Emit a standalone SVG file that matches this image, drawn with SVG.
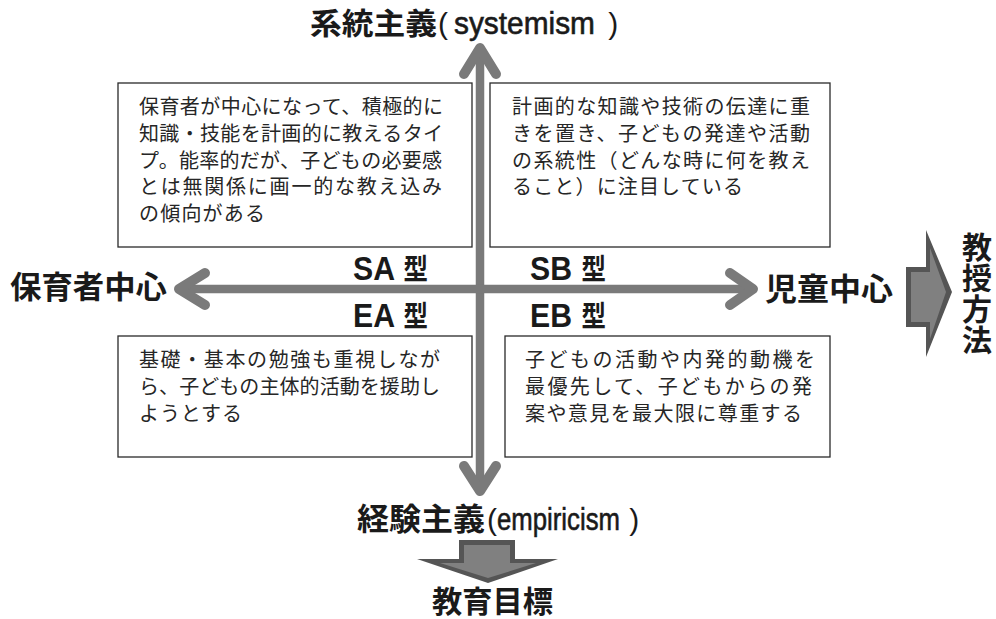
<svg xmlns="http://www.w3.org/2000/svg" width="996" height="619" viewBox="0 0 996 619">
<style>
.box{fill:#fff;stroke:#2a2a2a;stroke-width:1.3}
.bt{font-family:"Noto Sans CJK JP","Noto Sans",sans-serif;font-size:20px;fill:#262626;font-weight:400}
.hd{font-family:"Noto Sans CJK JP","Noto Sans",sans-serif;font-weight:700;fill:#1a1a1a}
.lat{font-family:"Liberation Sans","Noto Sans",sans-serif;fill:#1a1a1a}
.med{stroke:#1a1a1a;stroke-width:0.6}
.ax{fill:none;stroke:#7a7a7a;stroke-width:8.5;stroke-linecap:round;stroke-linejoin:round}
.ah{fill:none;stroke:#7a7a7a;stroke-width:10;stroke-linecap:round;stroke-linejoin:round}
</style>
<rect width="996" height="619" fill="#fff"/>

<g id="connectors">
  <line class="ax" x1="480" y1="50" x2="480" y2="488"/>
  <polyline class="ah" points="464,74 480,48 496,74"/>
  <polyline class="ah" points="464,466 480,491 496,466"/>
  <line class="ax" x1="182" y1="289" x2="750" y2="289"/>
  <polyline class="ah" points="205,273 179,289 205,305"/>
  <polyline class="ah" points="730,273 753,289 730,305"/>
</g>

<g id="box-SA">
  <rect class="box" x="118" y="83" width="354" height="164"/>
  <text class="bt" x="139" y="114" textLength="304" lengthAdjust="spacing">保育者が中心になって、積極的に</text>
  <text class="bt" x="139" y="141" textLength="304" lengthAdjust="spacing">知識・技能を計画的に教えるタイ</text>
  <text class="bt" x="139" y="168" textLength="303" lengthAdjust="spacing">プ。能率的だが、子どもの必要感</text>
  <text class="bt" x="139" y="194" textLength="303" lengthAdjust="spacing">とは無関係に画一的な教え込み</text>
  <text class="bt" x="139" y="221" textLength="126" lengthAdjust="spacing">の傾向がある</text>
</g>

<g id="box-SB">
  <rect class="box" x="490" y="83" width="340" height="164"/>
  <text class="bt" x="512" y="114" textLength="298" lengthAdjust="spacing">計画的な知識や技術の伝達に重</text>
  <text class="bt" x="512" y="141" textLength="298" lengthAdjust="spacing">きを置き、子どもの発達や活動</text>
  <text class="bt" x="512" y="168" textLength="298" lengthAdjust="spacing">の系統性（どんな時に何を教え</text>
  <text class="bt" x="512" y="194" textLength="231" lengthAdjust="spacing">ること）に注目している</text>
</g>

<g id="box-EA">
  <rect class="box" x="118" y="336" width="354" height="121"/>
  <text class="bt" x="139" y="367" textLength="301" lengthAdjust="spacing">基礎・基本の勉強も重視しなが</text>
  <text class="bt" x="139" y="394" textLength="301" lengthAdjust="spacing">ら、子どもの主体的活動を援助し</text>
  <text class="bt" x="139" y="421" textLength="103" lengthAdjust="spacing">ようとする</text>
</g>

<g id="box-EB">
  <rect class="box" x="505" y="336" width="325" height="121"/>
  <text class="bt" x="525" y="367" textLength="290" lengthAdjust="spacing">子どもの活動や内発的動機を</text>
  <text class="bt" x="525" y="394" textLength="287" lengthAdjust="spacing">最優先して、子どもからの発</text>
  <text class="bt" x="525" y="421" textLength="277" lengthAdjust="spacing">案や意見を最大限に尊重する</text>
</g>

<g id="label-systemism">
  <text y="34"><tspan class="hd" x="310" font-size="30" textLength="127" lengthAdjust="spacingAndGlyphs">系統主義</tspan><tspan class="lat" x="438" font-size="30">(</tspan><tspan class="lat med" x="454" font-size="31" textLength="141" lengthAdjust="spacingAndGlyphs">systemism</tspan><tspan class="lat" x="600" font-size="30"> )</tspan></text>
</g>

<g id="label-empiricism">
  <text y="530"><tspan class="hd" x="357" font-size="31" textLength="128" lengthAdjust="spacingAndGlyphs">経験主義</tspan><tspan class="lat" x="487" font-size="30">(</tspan><tspan class="lat med" x="497" font-size="31" textLength="123" lengthAdjust="spacingAndGlyphs">empiricism</tspan><tspan class="lat" x="621" font-size="30"> )</tspan></text>
</g>

<g id="label-hoikusha">
  <text class="hd" x="10" y="298" font-size="31" textLength="157" lengthAdjust="spacingAndGlyphs">保育者中心</text>
</g>

<g id="label-jido">
  <text class="hd" x="765" y="300" font-size="31" textLength="128" lengthAdjust="spacingAndGlyphs">児童中心</text>
</g>

<g id="label-SA">
  <text y="280"><tspan class="lat" x="353" font-size="33" font-weight="700" textLength="42" lengthAdjust="spacingAndGlyphs">SA</tspan><tspan class="hd" x="398" font-size="29" textLength="30" lengthAdjust="spacingAndGlyphs"> 型</tspan></text>
</g>
<g id="label-EA">
  <text y="327"><tspan class="lat" x="353" font-size="33" font-weight="700" textLength="42" lengthAdjust="spacingAndGlyphs">EA</tspan><tspan class="hd" x="398" font-size="29" textLength="30" lengthAdjust="spacingAndGlyphs"> 型</tspan></text>
</g>
<g id="label-SB">
  <text y="280"><tspan class="lat" x="530" font-size="33" font-weight="700" textLength="42" lengthAdjust="spacingAndGlyphs">SB</tspan><tspan class="hd" x="576" font-size="29" textLength="30" lengthAdjust="spacingAndGlyphs"> 型</tspan></text>
</g>
<g id="label-EB">
  <text y="327"><tspan class="lat" x="530" font-size="33" font-weight="700" textLength="42" lengthAdjust="spacingAndGlyphs">EB</tspan><tspan class="hd" x="576" font-size="29" textLength="30" lengthAdjust="spacingAndGlyphs"> 型</tspan></text>
</g>

<g id="arrow-method">
  <polygon points="906,267 926,267 926,230 952,292 926,357 926,327 906,327" fill="#555"/>
  <polygon points="911,272 930,272 930,248 946,292 930,339 930,322 911,322" fill="#808080"/>
</g>
<g id="label-method">
  <text class="hd" font-size="30" text-anchor="middle"><tspan x="977" y="258">教</tspan><tspan x="977" y="289">授</tspan><tspan x="977" y="320">方</tspan><tspan x="977" y="351">法</tspan></text>
</g>

<g id="arrow-goal">
  <polygon points="459,540 515,540 515,559 558,559 488,583 417,559 459,559" fill="#555"/>
  <polygon points="464,545 510,545 510,563 536,563 488,578 440,563 464,563" fill="#808080"/>
</g>
<g id="label-goal">
  <text class="hd" x="432" y="612" font-size="30" textLength="121" lengthAdjust="spacingAndGlyphs">教育目標</text>
</g>
</svg>
